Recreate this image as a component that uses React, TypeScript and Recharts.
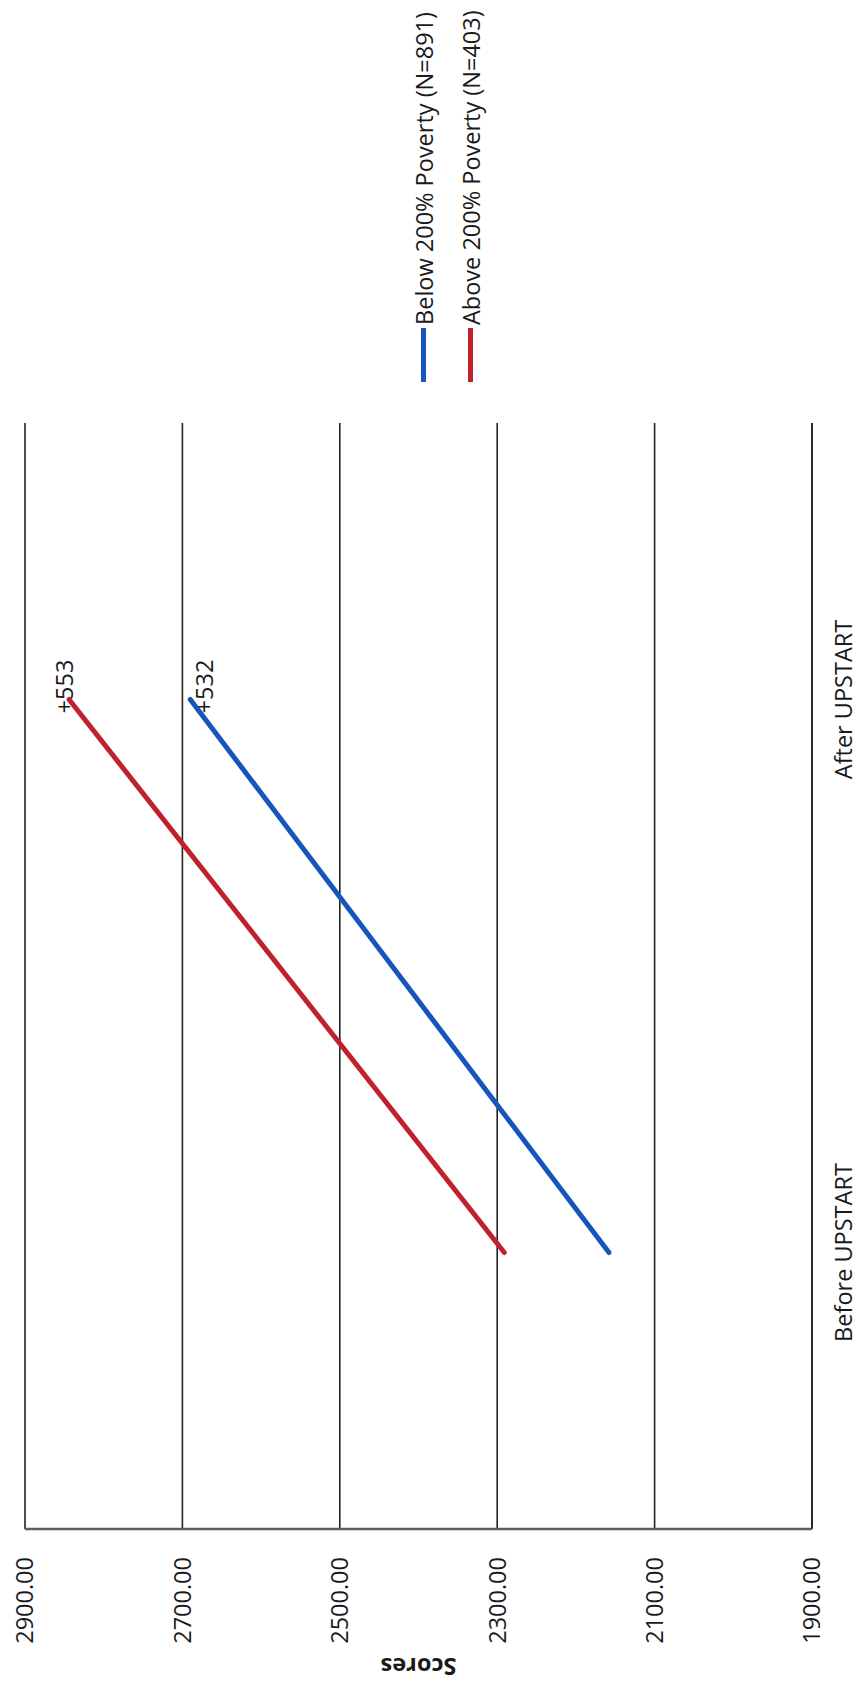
import React from 'react';
import { LineChart, Line, XAxis, YAxis, CartesianGrid, Legend, LabelList } from 'recharts';

// ---- data ----
const categories = ['Before UPSTART', 'After UPSTART'];
const belowSeries = [2158, 2690];
const aboveSeries = [2291, 2844];
const belowGainLabels = ['', '+532'];
const aboveGainLabels = ['', '+553'];
const yTicks = [1900, 2100, 2300, 2500, 2700, 2900];
const seriesNames = ['Below 200% Poverty (N=891)', 'Above 200% Poverty (N=403)'];

const data = categories.map((c, i) => ({
  name: c,
  below: belowSeries[i],
  above: aboveSeries[i],
  belowLabel: belowGainLabels[i],
  aboveLabel: aboveGainLabels[i],
}));

// ---- style ----
const W = 1686;
const H = 858;
const FONT = "'Open Sans', sans-serif";
const FS = 23.5;
const TEXT = '#1a1a1a';
const BLUE = '#1656BC';
const RED = '#BF222D';
const GRID = '#222222';

const makeGainLabel = (dx: number, dy: number) => (props: any) => {
  const { x, y, value } = props;
  if (!value) return null;
  return (
    <text x={Number(x) + dx} y={Number(y) + dy} textAnchor="middle" fill={TEXT} fontSize={FS} fontFamily={FONT}>
      {value}
    </text>
  );
};

const CategoryTick = (props: any) => {
  const { x, y, payload } = props;
  return (
    <text x={x} y={Number(y) + 40} textAnchor="middle" fill={TEXT} fontSize={FS} fontFamily={FONT}>
      {payload.value}
    </text>
  );
};

const renderYTitle = (p: any) => {
  const vb = p && p.viewBox ? p.viewBox : null;
  const cy = vb && vb.y != null ? vb.y + vb.height / 2 : 418.5;
  const x = 28;
  return (
    <text
      x={x}
      y={cy}
      transform={`rotate(-90, ${x}, ${cy})`}
      textAnchor="middle"
      fill={TEXT}
      fontSize={FS}
      fontWeight="bold"
      fontFamily={FONT}
    >
      Scores
    </text>
  );
};

const renderLegend = (props: any) => {
  const payload = [...(props.payload || [])].sort(
    (a: any, b: any) => seriesNames.indexOf(a.value) - seriesNames.indexOf(b.value)
  );
  return (
    <div style={{ fontFamily: FONT, fontSize: FS, color: TEXT, whiteSpace: 'nowrap' }}>
      {payload.map((entry: any) => (
        <div key={entry.value} style={{ display: 'flex', alignItems: 'center', height: 47 }}>
          <span style={{ display: 'inline-block', width: 54, height: 5, background: entry.color, marginRight: 3 }} />
          <span>{entry.value}</span>
        </div>
      ))}
    </div>
  );
};

export default function App() {
  return (
    <div style={{ position: 'absolute', left: 0, top: 0, width: 858, height: 1686, overflow: 'hidden', background: '#fff' }}>
      <div
        style={{
          position: 'absolute',
          left: 0,
          top: 0,
          width: W,
          height: H,
          transformOrigin: '0 0',
          transform: `translate(0px, ${W}px) rotate(-90deg)`,
        }}
      >
        <LineChart width={W} height={H} data={data} margin={{ top: 25, right: 423, bottom: 0, left: 0 }} style={{ fontFamily: FONT }}>
          <CartesianGrid vertical={false} stroke={GRID} strokeWidth={1.6} />
          <XAxis
            dataKey="name"
            height={46}
            padding={{ left: 276.5, right: 276.5 }}
            axisLine={{ stroke: GRID, strokeWidth: 1.6 }}
            tickLine={false}
            tickSize={0}
            tickMargin={0}
            interval={0}
            tick={<CategoryTick />}
          />
          <YAxis
            type="number"
            domain={[1900, 2900]}
            ticks={yTicks}
            width={157}
            axisLine={{ stroke: '#5e5e5e', strokeWidth: 2.5 }}
            tickLine={false}
            tickSize={0}
            tickMargin={28}
            tick={{ fill: TEXT, fontSize: FS, fontFamily: FONT }}
            tickFormatter={(v: number) => v.toFixed(2)}
            label={{ value: 'Scores', content: renderYTitle }}
          />
          <Legend
            layout="vertical"
            align="center"
            verticalAlign="middle"
            wrapperStyle={{ left: 1304, top: 400, width: 400 }}
            content={renderLegend}
          />
          <Line
            name={seriesNames[0]}
            type="linear"
            dataKey="below"
            stroke={BLUE}
            strokeWidth={5}
            strokeLinecap="round"
            dot={false}
            activeDot={false}
            isAnimationActive={false}
          >
            <LabelList dataKey="belowLabel" content={makeGainLabel(13, 22.7)} />
          </Line>
          <Line
            name={seriesNames[1]}
            type="linear"
            dataKey="above"
            stroke={RED}
            strokeWidth={5}
            strokeLinecap="round"
            dot={false}
            activeDot={false}
            isAnimationActive={false}
          >
            <LabelList dataKey="aboveLabel" content={makeGainLabel(13, 3.5)} />
          </Line>
        </LineChart>
      </div>
    </div>
  );
}
